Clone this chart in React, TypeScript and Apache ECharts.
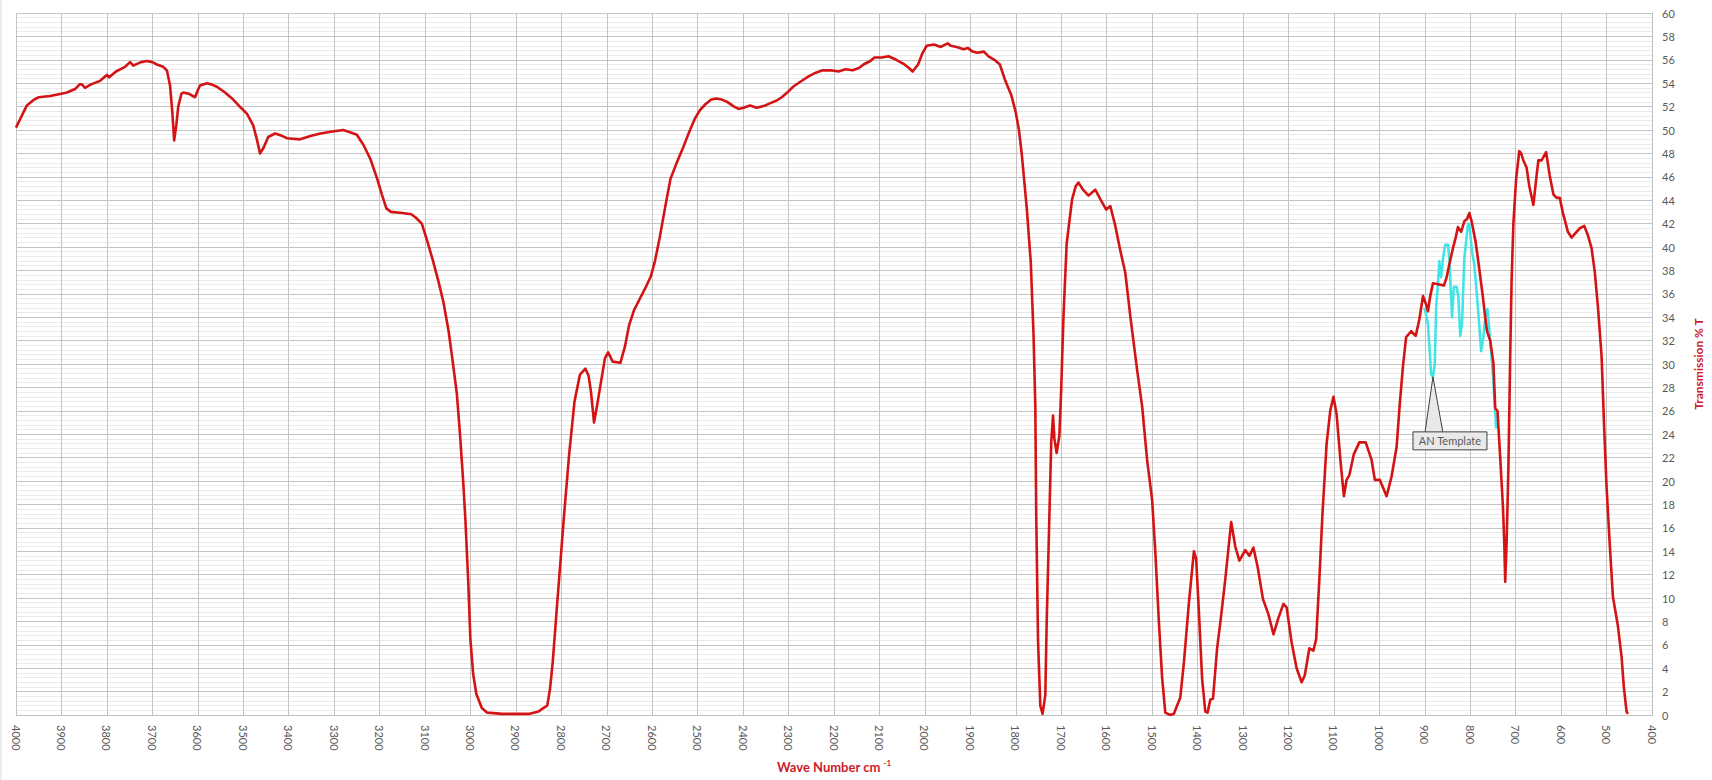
import React, { useEffect, useRef } from "react";
import * as echarts from "echarts";

// Red sample spectrum: wave number (cm-1) and transmission (%T)
const redWave = [
  4000, 3990, 3976, 3960, 3950, 3925, 3900, 3888, 3870, 3860, 3855, 3848, 3835, 3815, 3800, 3795, 3780, 3760,
  3749, 3742, 3725, 3712, 3700, 3690, 3676, 3668, 3661, 3656, 3652, 3647, 3643, 3636, 3632, 3620, 3606, 3600,
  3595, 3580, 3570, 3558, 3540, 3522, 3505, 3492, 3478, 3470, 3463, 3455, 3445, 3430, 3415, 3404, 3375, 3350,
  3330, 3300, 3280, 3265, 3250, 3235, 3220, 3205, 3195, 3185, 3175, 3150, 3130, 3120, 3107, 3095, 3083, 3070,
  3059, 3048, 3040, 3030, 3023, 3016, 3011, 3005, 3000, 2994, 2987, 2975, 2963, 2930, 2900, 2870, 2850, 2843,
  2831, 2825, 2819, 2807, 2795, 2783, 2771, 2759, 2747, 2740, 2735, 2728, 2722, 2716, 2704, 2697, 2687, 2670,
  2660, 2651, 2640, 2627, 2615, 2603, 2594, 2584, 2572, 2560, 2545, 2531, 2518, 2507, 2495, 2483, 2470, 2459,
  2447, 2435, 2420, 2410, 2399, 2385, 2370, 2351, 2340, 2327, 2315, 2303, 2290, 2275, 2255, 2240, 2225, 2207,
  2190, 2175, 2159, 2145, 2135, 2120, 2111, 2095, 2080, 2063, 2045, 2035, 2027, 2015, 2005, 1996, 1980, 1965,
  1950, 1943, 1930, 1915, 1905, 1895, 1885, 1870, 1860, 1847, 1835, 1823, 1810, 1800, 1793, 1787, 1776, 1767,
  1761, 1757, 1755, 1751, 1746, 1741, 1735, 1732, 1726, 1722, 1718, 1715, 1710, 1704, 1700, 1695, 1688, 1676,
  1668, 1662, 1652, 1640, 1625, 1614, 1601, 1592, 1581, 1570, 1559, 1548, 1533, 1522, 1511, 1500, 1493, 1485,
  1478, 1471, 1460, 1452, 1438, 1430, 1419, 1408, 1403, 1397, 1390, 1383, 1378, 1372, 1366, 1357, 1349, 1339,
  1326, 1317, 1308, 1295, 1286, 1277, 1268, 1256, 1244, 1233, 1222, 1211, 1204, 1193, 1182, 1171, 1164, 1154,
  1145, 1139, 1132, 1125, 1116, 1108, 1101, 1094, 1085, 1078, 1072, 1066, 1056, 1044, 1030, 1017, 1010, 999,
  984, 973, 962, 955, 948, 941, 930, 920, 912, 904, 898, 893, 888, 882, 868, 858, 852, 846, 838, 832, 827, 820,
  813, 807, 802, 797, 793, 788, 783, 778, 772, 767, 763, 756, 749, 745, 740, 734, 728, 725, 723, 720, 716, 712,
  709, 705, 699, 692, 688, 683, 676, 670, 661, 654, 650, 643, 633, 625, 617, 610, 603, 596, 585, 577, 568, 559,
  549, 541, 533, 526, 519, 511, 505, 500, 493, 486, 475, 467, 462, 456, 453,
];
const redT = [
  50.2, 51.0, 52.1, 52.6, 52.8, 52.9, 53.1, 53.2, 53.5, 53.9, 53.9, 53.6, 53.9, 54.2, 54.7, 54.5, 55.0, 55.4,
  55.8, 55.5, 55.8, 55.9, 55.8, 55.6, 55.4, 55.1, 53.8, 51.5, 49.1, 50.5, 52.0, 53.1, 53.2, 53.1, 52.8, 53.4,
  53.8, 54.0, 53.9, 53.7, 53.2, 52.6, 51.9, 51.4, 50.4, 49.2, 48.0, 48.5, 49.4, 49.7, 49.5, 49.3, 49.2, 49.5,
  49.7, 49.9, 50.0, 49.8, 49.6, 48.7, 47.5, 45.8, 44.5, 43.3, 43.0, 42.9, 42.8, 42.5, 42.0, 40.5, 38.9, 37.0,
  35.2, 32.8, 30.5, 27.5, 24.0, 20.0, 16.6, 11.5, 6.4, 3.5, 1.8, 0.6, 0.2, 0.1, 0.1, 0.1, 0.3, 0.5,
  0.8, 2.2, 4.5, 10.6, 16.6, 22.2, 26.8, 29.1, 29.6, 29.0, 27.7, 25.0, 26.3, 27.7, 30.5, 31.0, 30.2, 30.1,
  31.5, 33.3, 34.6, 35.6, 36.5, 37.5, 38.8, 40.7, 43.3, 45.8, 47.3, 48.6, 49.9, 50.9, 51.7, 52.2, 52.6, 52.7,
  52.6, 52.4, 52.0, 51.8, 51.9, 52.1, 51.9, 52.1, 52.3, 52.5, 52.8, 53.2, 53.7, 54.1, 54.6, 54.9, 55.1, 55.1,
  55.0, 55.2, 55.1, 55.3, 55.6, 55.9, 56.2, 56.2, 56.3, 56.0, 55.6, 55.3, 55.0, 55.6, 56.6, 57.2, 57.3, 57.1,
  57.4, 57.2, 57.1, 56.9, 57.0, 56.7, 56.6, 56.7, 56.3, 56.0, 55.6, 54.2, 53.0, 51.5, 50.0, 48.0, 43.4, 38.7,
  32.6, 26.4, 17.1, 6.3, 0.8, 0.1, 1.7, 7.9, 17.1, 23.3, 25.6, 23.6, 22.4, 23.9, 27.9, 34.1, 40.3, 44.1,
  45.2, 45.5, 44.9, 44.4, 44.9, 44.1, 43.2, 43.5, 41.8, 39.7, 37.8, 34.1, 29.5, 26.4, 21.8, 18.4, 14.0, 7.9,
  3.2, 0.2, 0.0, 0.1, 1.5, 4.5, 9.6, 14.0, 13.3, 8.8, 3.1, 0.3, 0.2, 1.3, 1.4, 5.7, 8.2, 11.6,
  16.5, 14.4, 13.2, 14.1, 13.6, 14.3, 12.7, 9.9, 8.6, 6.9, 8.3, 9.5, 9.2, 6.2, 4.0, 2.8, 3.4, 5.7,
  5.5, 6.5, 11.6, 17.3, 23.2, 26.0, 27.2, 25.7, 21.5, 18.7, 20.1, 20.5, 22.3, 23.3, 23.3, 21.8, 20.1, 20.1,
  18.7, 20.4, 22.9, 26.6, 29.8, 32.3, 32.8, 32.4, 33.8, 35.8, 35.2, 34.5, 35.8, 36.9, 36.8, 36.7, 37.4, 38.5, 39.9, 40.8, 41.7, 41.3,
  42.2, 42.4, 42.9, 42.2, 41.4, 40.4, 39.0, 37.5, 35.7, 34.0, 32.8, 32.0, 30.1, 26.2, 26.0, 22.0, 17.8, 14.6, 11.4, 14.6, 21.1, 30.7,
  37.1, 42.0, 45.8, 48.2, 48.0, 47.4, 46.8, 45.2, 43.6, 46.1, 47.4, 47.4, 48.1, 46.1, 44.5, 44.2, 44.2, 42.9, 41.3, 40.8, 41.2, 41.6,
  41.8, 41.0, 39.9, 37.9, 34.9, 30.7, 24.3, 19.5, 14.6, 10.1, 7.6, 5.0, 2.4, 0.3, 0.1,
];

// Cyan reference spectrum ("AN Template")
const cyanWave = [
  901, 896, 893, 889, 886, 882, 878, 875, 871, 868, 864, 860, 855, 849, 846, 842, 840, 836, 830, 826, 822, 818,
  813, 805, 802, 796, 791, 783, 776, 771, 767, 762, 759, 755, 750, 746, 743,
];
const cyanT = [
  34.8, 34.0, 33.4, 31.0, 29.1, 28.9, 30.0, 34.8, 36.8, 38.8, 37.4, 39.0, 40.2, 40.2, 39.0, 35.7, 34.0, 36.6,
  36.6, 35.7, 32.4, 33.4, 39.0, 42.0, 41.9, 39.6, 38.5, 34.8, 31.1, 32.3, 34.0, 34.7, 33.4, 31.5, 29.0, 26.5,
  24.5,
];

const annotationPoint = [882, 28.9];
const annotationLabel = "AN Template";

const xTitle = "Wave Number cm ";
const xTitleSup = "-1";
const yTitle = "Transmission % T";

const RED = "#d41414";
const CYAN = "#3ee4e6";
const TITLE_RED = "#cc1c2c";
const LABEL = "#595959";
const FONT = "Lato, 'Open Sans', sans-serif";

export default function App() {
  const ref = useRef<HTMLDivElement>(null);

  useEffect(() => {
    if (!ref.current) return;
    const chart = echarts.init(ref.current, null, { renderer: "svg" });
    const red = redWave.map((w, i) => [w, redT[i]]);
    const cyan = cyanWave.map((w, i) => [w, cyanT[i]]);

    chart.setOption({
      animation: false,
      backgroundColor: "#ffffff",
      textStyle: { fontFamily: FONT },
      grid: { left: 16, top: 13, right: 59, bottom: 60, containLabel: false },
      xAxis: {
        type: "value",
        min: 400,
        max: 4000,
        interval: 100,
        inverse: true,
        name: `{t|${xTitle}}{s|${xTitleSup}}`,
        nameLocation: "middle",
        nameGap: 44,
        nameTextStyle: {
          rich: {
            t: { fontSize: 13, fontWeight: "bold", color: TITLE_RED, fontFamily: FONT, lineHeight: 16 },
            s: { fontSize: 8, fontWeight: "bold", color: TITLE_RED, fontFamily: FONT, verticalAlign: "top", lineHeight: 16, padding: [0, 0, 8, 0] },
          },
        },
        axisLine: { show: true, lineStyle: { color: "#bfbfbf", width: 1 } },
        axisTick: { show: false },
        axisLabel: {
          rotate: -90,
          margin: 10,
          color: LABEL,
          fontSize: 11,
          fontFamily: FONT,
          showMinLabel: true,
          showMaxLabel: true,
          formatter: (v: number) => String(v),
        },
        splitLine: { show: true, lineStyle: { color: "#c4c4c4", width: 1 } },
      },
      yAxis: {
        type: "value",
        position: "right",
        min: 0,
        max: 60,
        interval: 2,
        name: yTitle,
        nameLocation: "middle",
        nameRotate: 90,
        nameGap: 40,
        nameTextStyle: { fontSize: 12, fontWeight: "bold", color: TITLE_RED, fontFamily: FONT },
        axisLine: { show: true, lineStyle: { color: "#bfbfbf", width: 1 } },
        axisTick: { show: false },
        axisLabel: {
          margin: 10,
          color: LABEL,
          fontSize: 11,
          fontFamily: FONT,
          showMinLabel: true,
          showMaxLabel: true,
          formatter: (v: number) => String(v),
        },
        splitLine: { show: true, lineStyle: { color: "#c4c4c4", width: 1 } },
        minorTick: { show: false, splitNumber: 5 },
        minorSplitLine: { show: true, lineStyle: { color: "#ebebeb", width: 1 } },
      },
      series: [
        {
          name: annotationLabel,
          type: "line",
          data: cyan,
          showSymbol: false,
          symbol: "none",
          lineStyle: { color: CYAN, width: 2.5, join: "round" },
          z: 2,
        },
        {
          name: "Sample",
          type: "line",
          data: red,
          showSymbol: false,
          symbol: "none",
          lineStyle: { color: RED, width: 2.6, join: "round" },
          z: 3,
        },
      ],
    });

    const p = chart.convertToPixel({ gridIndex: 0 }, annotationPoint) as number[];
    const tx = p[0];
    const ty = p[1];
    chart.setOption({
      graphic: [
        {
          type: "line",
          shape: { x1: 1, y1: 0, x2: 1, y2: 780 },
          style: { stroke: "#d9d9d9", lineWidth: 1 },
          silent: true,
        },
        {
          type: "polygon",
          shape: { points: [[tx, ty], [tx - 8, ty + 56], [tx + 10, ty + 56]] },
          style: { fill: "#e9e9e9", stroke: "#404040", lineWidth: 1 },
          z: 100,
        },
        {
          type: "rect",
          shape: { x: tx - 20, y: ty + 55, width: 74, height: 18 },
          style: { fill: "#e9e9e9", stroke: "#404040", lineWidth: 1 },
          z: 101,
        },
        {
          type: "text",
          x: tx + 17,
          y: ty + 64,
          style: {
            text: annotationLabel,
            fill: LABEL,
            fontSize: 11,
            fontFamily: FONT,
            align: "center",
            verticalAlign: "middle",
          },
          z: 102,
        },
      ],
    });

    return () => chart.dispose();
  }, []);

  return (
    <div
      ref={ref}
      style={{ position: "fixed", left: 0, top: 0, width: 1712, height: 780 }}
    />
  );
}
